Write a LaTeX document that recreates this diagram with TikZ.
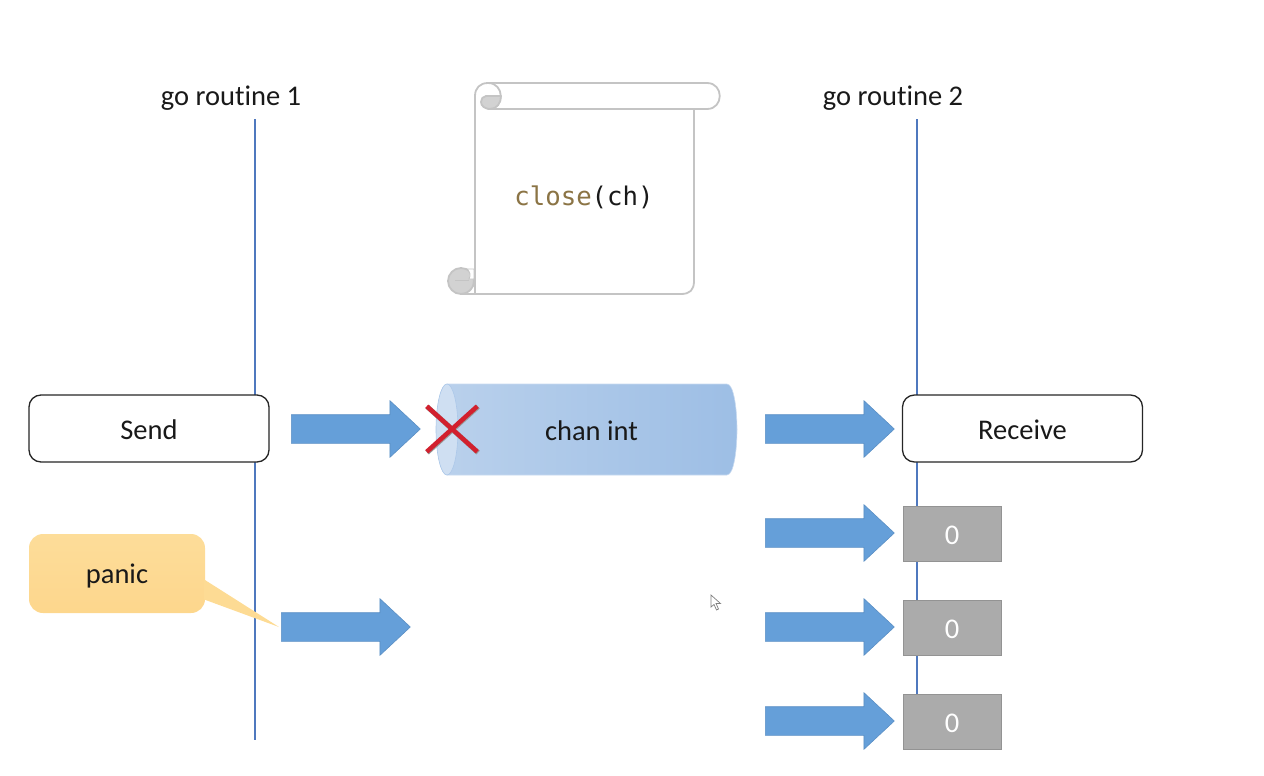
\documentclass[tikz,border=0pt]{standalone}
\usepackage{fontspec}
\setmainfont[Ligatures=NoCommon]{Carlito}
\setmonofont{DejaVu Sans Mono}
\usetikzlibrary{shapes.arrows,shapes.misc}

\definecolor{seta}{HTML}{659FD9}
\definecolor{setaborda}{HTML}{5B8FC4}
\definecolor{linha}{HTML}{4F78BE}
\definecolor{papel}{HTML}{C4C4C4}
\definecolor{rolo}{HTML}{D2D2D2}
\definecolor{tuboA}{HTML}{BAD1EC}
\definecolor{tuboB}{HTML}{9DBEE5}
\definecolor{tampa}{HTML}{CFDFF2}
\definecolor{palavra}{HTML}{8B7445}
\definecolor{balao}{HTML}{FDDB94}
\definecolor{vermelho}{HTML}{D2202E}

\newcommand{\desce}[2][1.5pt]{\raisebox{-#1}[\height][\depth]{#2}}

\tikzset{
    texto/.style={font=\fontsize{28.5}{32}\selectfont, text=black!90, inner sep=0pt},
    caixa/.style={texto, draw=black!85, line width=1.3pt, fill=white, rounded corners=12pt,
        minimum width=240pt, minimum height=67pt},
    zero/.style={texto, text=white, draw=gray!85, line width=1pt, fill=black!33,
        minimum width=98pt, minimum height=55pt},
    seta/.style={single arrow, draw=setaborda, line width=0.6pt, fill=seta, inner xsep=0pt, inner ysep=14pt,
        minimum height=129pt,
        single arrow head extend=14pt, single arrow tip angle=86},
    papelao/.style={draw=papel, line width=1.8pt, line join=round},
}

\begin{document}
\begin{tikzpicture}[x=1pt,y=-1pt]
    \useasboundingbox (0,0) rectangle (1264,776);

    %linhas das go routines
    \coordinate (topoUm) at (255,119);
    \coordinate (fimUm) at (255,740);
    \coordinate (topoDois) at (917,119);
    \coordinate (fimDois) at (917,700);
    \draw[linha, line width=2pt] (topoUm) -- (fimUm);
    \draw[linha, line width=2pt] (topoDois) -- (fimDois);
    \node[texto] (tituloUm) at (231,98) {go routine 1};
    \node[texto] (tituloDois) at (893,98) {go routine 2};

    %pergaminho
    \draw[papelao, fill=white]
        (488,83) -- (707,83) .. controls (724,83) and (724,109) .. (707,109) -- (694,109)
        -- (694,281) .. controls (694,290) and (690,294) .. (681,294) -- (461,294)
        -- (475,281) -- (475,96) .. controls (475,88) and (480,83) .. (488,83) -- cycle;
    \draw[papelao, fill=white] (488,83) .. controls (505,83) and (505,109) .. (488,109) -- (694,109);
    \draw[papelao, fill=rolo]
        (486,96) -- (501,96) .. controls (501,103) and (497,109) .. (490,109)
        .. controls (485,109) and (481,106) .. (481,102) .. controls (481,99) and (483,96) .. (486,96) -- cycle;
    \draw[papelao, fill=rolo] (461,281) circle[radius=13pt];
    \fill[white, draw=papel, line width=0.8pt] (467,269) -- (474,269) -- (474,279) -- (469,279) .. controls (471,275) and (470,272) .. (467,269) -- cycle;
    \draw[papelao, line width=1pt] (455,280.5) -- (469,280.5);
    \draw[papelao] (475,268) -- (475,294) -- (461,294);
    \node[texto, font=\fontsize{25.7}{30}\ttfamily] (fechar) at (584,197) {\textcolor{palavra}{close}(ch)};

    %canal
    \shade[left color=tuboA, right color=tuboB, draw=tuboA!80!white, line width=0.6pt]
        (447,384) -- (727,384) .. controls (734,384) and (737,410) .. (737,429.5)
        .. controls (737,449) and (734,475) .. (727,475) -- (447,475)
        .. controls (440,475) and (436.5,449) .. (436.5,429.5)
        .. controls (436.5,410) and (440,384) .. (447,384) -- cycle;
    \fill[tampa, draw=tuboB!85!white, line width=0.6pt] (447,429.5) ellipse[x radius=11pt, y radius=45.5pt];
    \node[texto] (canal) at (591.5,431) {chan int};

    %caixas
    \node[caixa] (send) at (149,428.5) {\desce{Send}};
    \node[caixa] (receive) at (1022.5,428.5) {\desce{Receive}};
    \foreach \y/\nome in {533.5/zeroA, 627.5/zeroB, 721.5/zeroC} {
        \node[zero] (\nome) at (952,\y) {\desce{0}};
    }

    %setas
    \foreach \x/\y/\nome in {
        291/429/setaSend, 765/429/setaReceive, 281/627/setaPanic,
        765/533/setaA, 765/627/setaB, 765/721/setaC
    } {
        \node[seta, anchor=tail] (\nome) at (\x,\y) {};
    }

    %panic
    \node[texto, rounded corners=14pt, minimum width=176pt, minimum height=79pt,
        top color=balao!95!white, bottom color=balao!95!orange] (panic) at (117,573.5) {\desce[2pt]{panic}};
    \coordinate (ponta) at (279,627);
    \fill[balao] ([yshift=-6pt,xshift=-1pt]panic.east) -- (ponta) -- ([yshift=-26pt,xshift=-1pt]panic.east) -- cycle;

    %X vermelho
    \node[cross out, draw=black!40, line width=5pt, minimum width=46pt, minimum height=41pt, inner sep=0pt] (sombra) at (452.6,429.6) {};
    \node[cross out, draw=vermelho, line width=4.5pt, minimum width=46pt, minimum height=41pt, inner sep=0pt] (proibido) at (452,429) {};

    %ponteiro do mouse
    \draw[gray, fill=white, line width=0.7pt] (711,595) -- (711,607) -- (714,604.5) -- (716.5,610) -- (718.5,609) -- (716,603.5) -- (720.5,603.5) -- cycle;
\end{tikzpicture}
\end{document}
